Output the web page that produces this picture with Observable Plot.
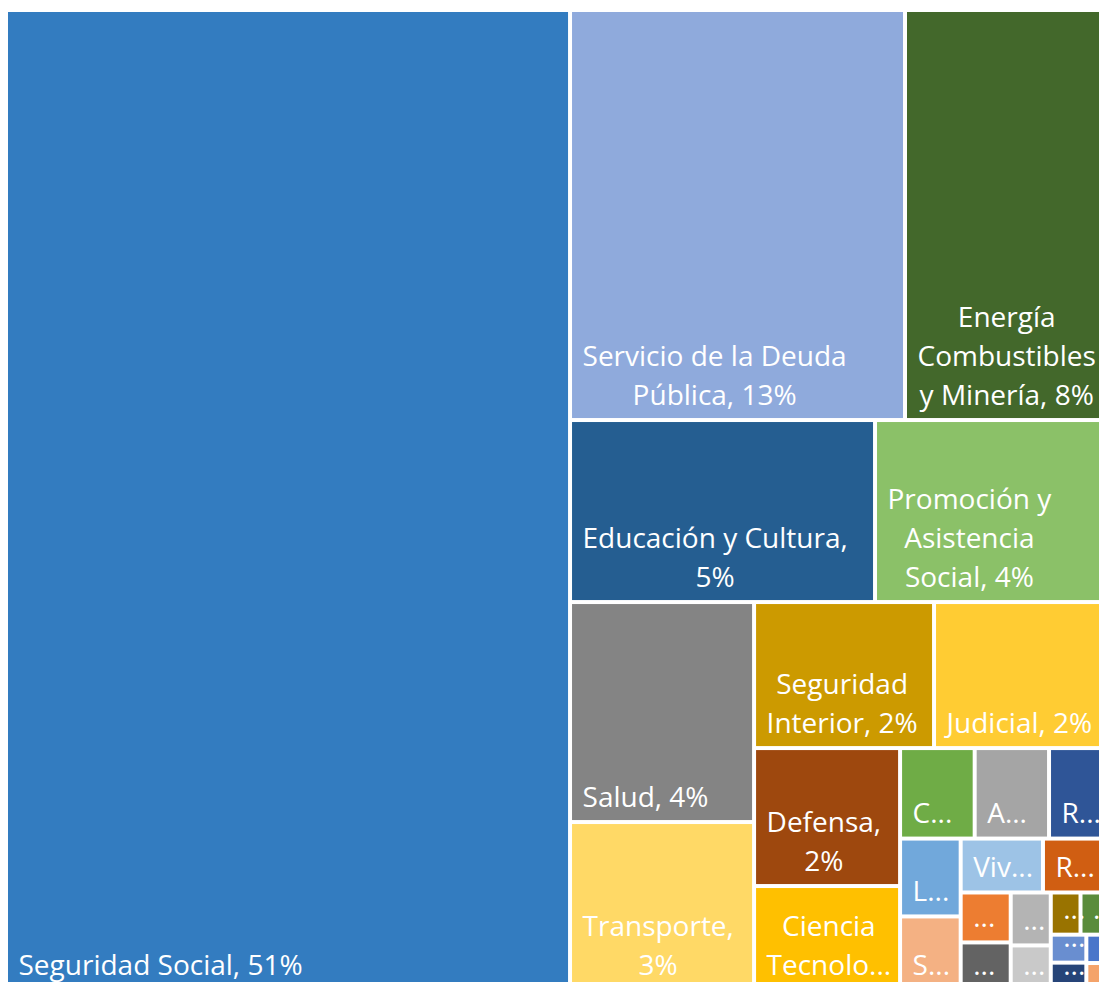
<!DOCTYPE html>
<html><head><meta charset="utf-8">
<script src="https://cdn.jsdelivr.net/npm/d3@7"></script>
<script src="https://cdn.jsdelivr.net/npm/@observablehq/plot@0.6"></script>
<style>
html,body{margin:0;padding:0;background:#fff;}
#chart{width:1099px;height:982px;overflow:hidden;position:relative;}
</style></head><body><div id="chart"></div>
<script>
// Categorías (finalidad-función) y su participación en el gasto (%)
const categorias = [
  "Seguridad Social",
  "Servicio de la Deuda Pública",
  "Energía Combustibles y Minería",
  "Educación y Cultura",
  "Promoción y Asistencia Social",
  "Salud",
  "Transporte",
  "Seguridad Interior",
  "Judicial",
  "Defensa",
  "Ciencia Tecnología e Innovación",
  "Comunicaciones",
  "Administración Fiscal",
  "Relaciones Exteriores",
  "Legislativa",
  "Sistema Penal",
  "Vivienda y Urbanismo",
  "Relaciones Interiores",
  "Trabajo",
  "Dirección Superior Ejecutiva",
  "Agua Potable y Alcantarillado",
  "Inteligencia",
  "Ecología y Medio Ambiente",
  "Industria",
  "Información y Estadística Básicas",
  "Control de la Gestión Pública",
  "Comercio Turismo y Otros Servicios",
  "Seguros y Finanzas"
];
const valores = [
  51.09, 12.695, 7.769, 5.131, 3.953, 3.742, 2.857, 2.429, 2.375, 1.862, 1.403,
  0.624, 0.622, 0.510, 0.436, 0.412, 0.410, 0.334, 0.231, 0.220, 0.196, 0.165,
  0.116, 0.115, 0.092, 0.090, 0.062, 0.059
];
const colores = [
  "#337CC0", "#8FAADC", "#43682B", "#255E91", "#8BC168", "#848484", "#FFD966",
  "#CC9A00", "#FFCC33", "#9E480E", "#FFC000", "#6FAC46", "#A5A5A5", "#2F5597",
  "#71A8DB", "#F4B183", "#9DC3E6", "#D05E12", "#ED7D31", "#636363", "#B4B4B4",
  "#C9C9C9", "#997300", "#5A8C3B", "#698ED0", "#264478", "#4A76CA", "#F4A36A"
];

const FONT_FAMILY = "'Open Sans', sans-serif";
const FONT_SIZE = 28;
const LINE_H = 39;
const W = 1104, H = 980;   // tamaño del área del treemap
const OX = 6, OY = 10;     // origen
const RATIO = 0.98;        // proporción objetivo del algoritmo "squarify"

// squarify (como d3.treemapSquarify) pero sin limitar la proporción a >= 1
function squarifyTile(parent, x0, y0, x1, y1) {
  const nodes = parent.children, n = nodes.length;
  let i0 = 0, i1 = 0, value = parent.value;
  while (i0 < n) {
    const dx = x1 - x0, dy = y1 - y0;
    let sumValue, nodeValue;
    do sumValue = nodes[i1++].value; while (!sumValue && i1 < n);
    let minValue = sumValue, maxValue = sumValue;
    const alpha = Math.max(dy / dx, dx / dy) / (value * RATIO);
    let beta = sumValue * sumValue * alpha;
    let minRatio = Math.max(maxValue / beta, beta / minValue);
    for (; i1 < n; ++i1) {
      sumValue += nodeValue = nodes[i1].value;
      if (nodeValue < minValue) minValue = nodeValue;
      if (nodeValue > maxValue) maxValue = nodeValue;
      beta = sumValue * sumValue * alpha;
      const newRatio = Math.max(maxValue / beta, beta / minValue);
      if (newRatio > minRatio) { sumValue -= nodeValue; break; }
      minRatio = newRatio;
    }
    const row = {value: sumValue, children: nodes.slice(i0, i1)};
    if (dx < dy) d3.treemapDice(row, x0, y0, x1, dy ? y0 += dy * sumValue / value : y1);
    else d3.treemapSlice(row, x0, y0, dx ? x0 += dx * sumValue / value : x1, y1);
    value -= sumValue; i0 = i1;
  }
}

const root = d3.hierarchy({children: categorias.map((name, i) => ({name, value: valores[i]}))})
  .sum(d => d.value || 0)
  .sort((a, b) => b.value - a.value);
d3.treemap().tile(squarifyTile).size([W, H])(root);
const hojas = root.leaves();
const total = root.value;

const ctx = document.createElement("canvas").getContext("2d");
ctx.font = `${FONT_SIZE}px ${FONT_FAMILY}`;
const measure = s => ctx.measureText(s).width;
function truncate(s, maxW) {
  if (measure(s) <= maxW) return s;
  for (let k = s.length - 1; k > 0; k--) {
    const t = s.slice(0, k).trimEnd() + "...";
    if (measure(t) <= maxW) return t;
  }
  return "...";
}
function wrap(text, maxW, maxLines) {
  const words = text.split(" ");
  const lines = [];
  let i = 0;
  while (i < words.length) {
    if (lines.length === maxLines - 1 || measure(words[i]) > maxW) {
      lines.push(truncate(words.slice(i).join(" "), maxW));
      break;
    }
    let line = words[i];
    let j = i + 1;
    while (j < words.length && measure(line + " " + words[j]) <= maxW) { line += " " + words[j]; j++; }
    lines.push(line);
    i = j;
  }
  return lines;
}

const lineas = [];
hojas.forEach((d, idx) => {
  const cw = d.x1 - d.x0, ch = d.y1 - d.y0;
  const label = `${d.data.name}, ${Math.round(d.value / total * 100)}%`;
  const maxLines = Math.max(1, Math.floor((ch - 12) / LINE_H));
  const lines = wrap(label, cw - 19, maxLines);
  const blockW = d3.max(lines, measure);
  const cx = d.x0 + 12 + blockW / 2;
  const n = lines.length;
  lines.forEach((t, k) => {
    lineas.push({x: cx, y: d.y1 - 16 - (n - 1 - k) * LINE_H, text: t, idx});
  });
});

const plot = Plot.plot({
  width: 1099, height: 982, margin: 0,
  x: {domain: [0, W], range: [OX, OX + W], axis: null},
  y: {domain: [0, H], range: [OY, OY + H], axis: null},
  color: {domain: categorias, range: colores},
  style: {fontFamily: FONT_FAMILY, background: "white"},
  marks: [
    Plot.rect(hojas, {x1: d => d.x0, x2: d => d.x1, y1: d => d.y0, y2: d => d.y1, fill: d => d.data.name, inset: 2}),
    Plot.text(lineas, {x: "x", y: "y", text: "text", fill: "white", fontSize: FONT_SIZE,
      textAnchor: "middle", lineAnchor: "bottom", ariaLabel: "etiquetas"})
  ]
});
document.getElementById("chart").appendChild(plot);

// recorte de cada etiqueta a su celda
const svg = d3.select(plot);
const defs = svg.insert("defs", ":first-child");
hojas.forEach((d, i) => {
  defs.append("clipPath").attr("id", "celda" + i).append("rect")
    .attr("x", OX + d.x0 + 2).attr("y", OY + d.y0 + 2)
    .attr("width", Math.max(0, d.x1 - d.x0 - 4)).attr("height", Math.max(0, d.y1 - d.y0 - 4));
});
svg.selectAll('g[aria-label="etiquetas"] text').each(function(_, i) {
  const g = document.createElementNS("http://www.w3.org/2000/svg", "g");
  g.setAttribute("clip-path", `url(#celda${lineas[i].idx})`);
  this.parentNode.insertBefore(g, this);
  g.appendChild(this);
});
</script>
</body></html>
